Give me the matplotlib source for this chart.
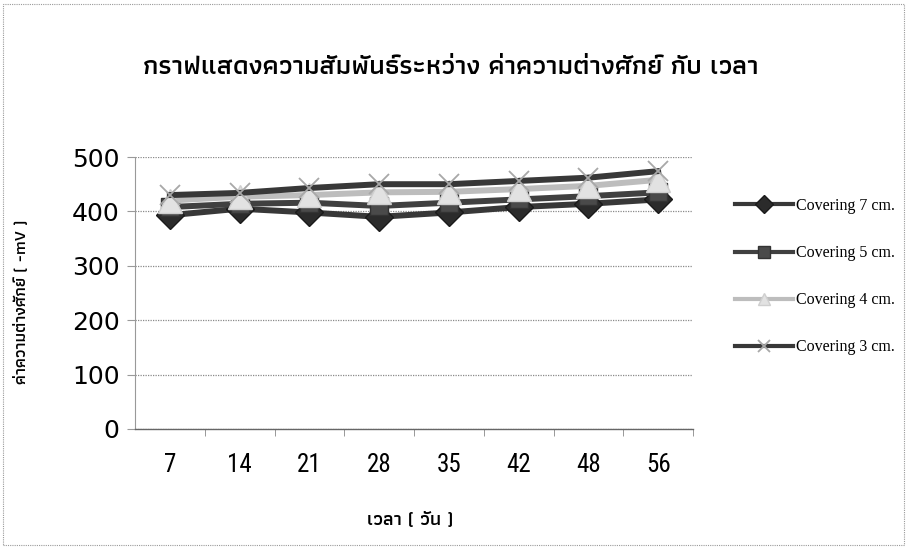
import matplotlib
matplotlib.use("Agg")
import matplotlib.pyplot as plt
from matplotlib.patches import Rectangle

# days of measurement
days = ['7', '14', '21', '28', '35', '42', '48', '56']

# potential difference (-mV) for each covering thickness
cover_7cm = [393, 405, 398, 390, 398, 408, 414, 422]
cover_5cm = [408, 414, 416, 410, 416, 422, 428, 435]
cover_4cm = [420, 427, 430, 435, 436, 441, 447, 458]
cover_3cm = [430, 434, 443, 450, 450, 456, 462, 474]

series_labels = ['Covering 7 cm.', 'Covering 5 cm.', 'Covering 4 cm.', 'Covering 3 cm.']

THAI = ['Athiti', 'DejaVu Sans']

fig = plt.figure(figsize=(9.07, 5.48), dpi=100)
fig.patch.set_facecolor('white')
ax = fig.add_axes([135/907, 1-429/548, (693-135)/907, (429-157)/548])

x = list(range(len(days)))
styles = [
    dict(color='#383838', marker='D', ms=14, mfc='#2b2b2b', mec='#1a1a1a'),
    dict(color='#404040', marker='s', ms=13, mfc='#4a4a4a', mec='#333333'),
    dict(color='#bdbdbd', marker='^', ms=17, mfc='#e2e2e2', mec='#cfcfcf'),
    dict(color='#383838', marker='x', ms=15, mfc='none', mec='#a8a8a8', mew=1.3),
]
for vals, lab, st in zip([cover_7cm, cover_5cm, cover_4cm, cover_3cm], series_labels, styles):
    ax.plot(x, vals, linewidth=4.3, label=lab, **st)

ax.set_xlim(-0.5, len(days) - 0.5)
ax.set_ylim(0, 500)
ax.set_yticks([0, 100, 200, 300, 400, 500])
ax.set_yticklabels(['0', '100', '200', '300', '400', '500'], fontsize=18, family='DejaVu Sans')
ax.set_xticks(x)
ax.set_xticklabels(days, fontsize=18, family='Roboto Condensed')
ax.set_xticks([i + 0.5 for i in x], minor=True)
ax.tick_params(axis='x', which='major', length=0, pad=17)
ax.tick_params(axis='x', which='minor', length=5, color='#888888', direction='out')
ax.tick_params(axis='y', length=6, color='#999999', pad=5)

ax.grid(axis='y', color='#8a8a8a', linestyle=(0, (1, 1)), linewidth=0.9)
ax.set_axisbelow(True)
for s in ['top', 'right']:
    ax.spines[s].set_visible(False)
ax.spines['left'].set_color('#999999')
ax.spines['left'].set_linewidth(0.8)
ax.spines['bottom'].set_color('#666666')
ax.spines['bottom'].set_linewidth(1.0)

fig.text(451/907, 1-68/548, 'กราฟแสดงความสัมพันธ์ระหว่าง ค่าความต่างศักย์ กับ เวลา',
         ha='center', va='center', fontsize=19.5, family=THAI, weight='semibold')
fig.text(22/907, 1-302/548, 'ค่าความต่างศักย์ ( -mV )', rotation=90,
         ha='center', va='center', fontsize=12, family=THAI, weight='semibold')
fig.text(410/907, 1-520/548, 'เวลา ( วัน )', ha='center', va='center',
         fontsize=14, family=THAI, weight='semibold')

leg = fig.legend(loc='upper left', bbox_to_anchor=(735/907, 1-198/548),
                 frameon=False, prop={'family': 'Liberation Serif', 'size': 11.5},
                 handlelength=3.6, labelspacing=1.95, handletextpad=0.25,
                 borderaxespad=0, borderpad=0)
for h in leg.legend_handles:
    h.set_markersize(9)
    h.set_linewidth(3)

# chart area border
fig.patches.append(Rectangle((3/907, 3/548), 901/907, 541/548, transform=fig.transFigure,
                             fill=False, edgecolor='#9a9a9a', linewidth=0.8,
                             linestyle=(0, (1, 1))))

fig.savefig('out.png', dpi=100)
